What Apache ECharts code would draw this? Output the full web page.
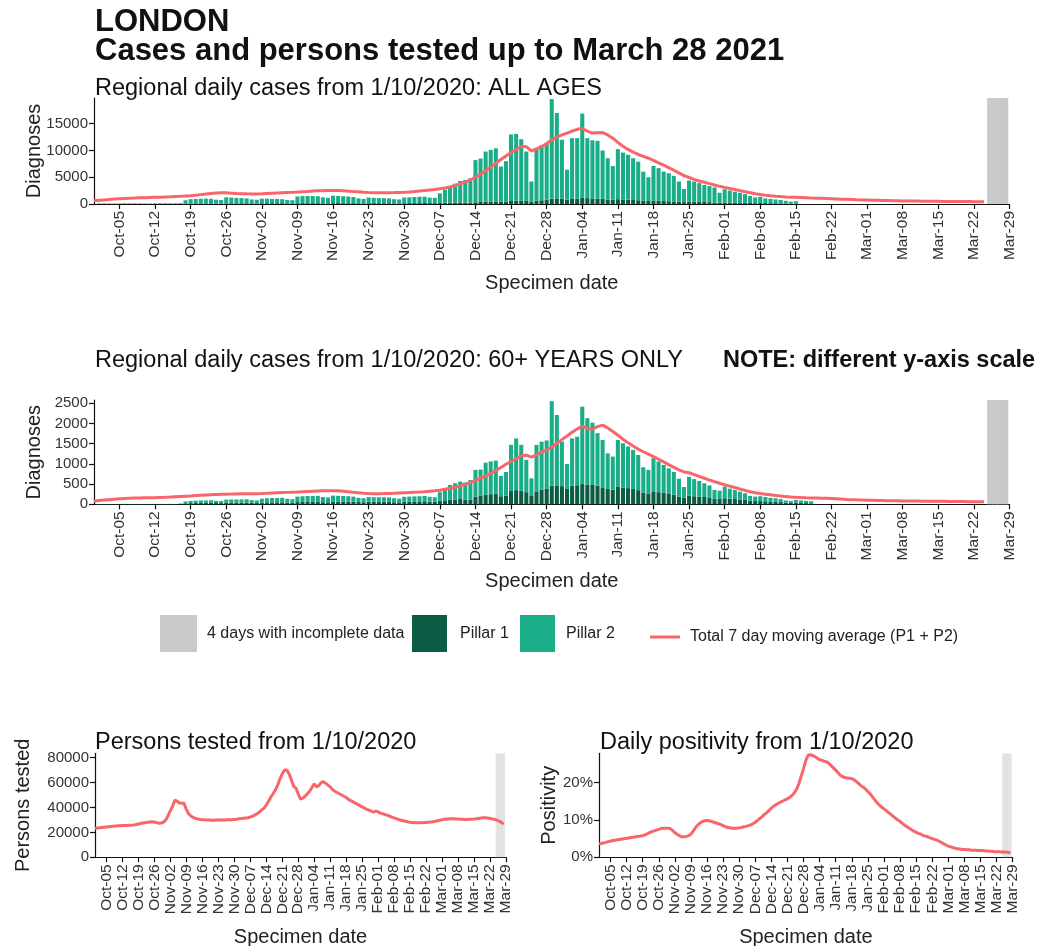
<!DOCTYPE html>
<html><head><meta charset="utf-8">
<script src="https://cdn.jsdelivr.net/npm/echarts@6/dist/echarts.min.js"></script>
<style>html,body{margin:0;padding:0;background:#fff}#c{width:1038px;height:946px}</style>
</head><body><div id="c"></div>
<script>
// ---------- tick labels ----------
const tickLabels = ['Oct-05','Oct-12','Oct-19','Oct-26','Nov-02','Nov-09','Nov-16','Nov-23','Nov-30',
  'Dec-07','Dec-14','Dec-21','Dec-28','Jan-04','Jan-11','Jan-18','Jan-25','Feb-01','Feb-08','Feb-15',
  'Feb-22','Mar-01','Mar-08','Mar-15','Mar-22','Mar-29'];
const yTicksTop = [0, 5000, 10000, 15000];
const yTicksMid = [0, 500, 1000, 1500, 2000, 2500];
const yTicksPersons = [0, 20000, 40000, 60000, 80000];
const yTicksPos = [0, 10, 20];

// ---------- all ages (from Oct 1) ----------
const pillar1All = [40,40,30,30,40,50,50, 50,40,40,30,50,60,60, 60,50,60,80,100,110,110,
  110,120,100,90,120,130,130, 130,140,120,110,140,150,150, 150,150,130,120,150,160,160,
  160,160,140,130,160,170,160, 160,160,140,130,160,160,160, 150,150,130,130,160,170,170,
  180,190,170,160,200,230,250, 270,290,260,250,320,380,420, 450,480,420,400,560,620,650,
  600,450,600,700,800,1000,1050, 1000,800,950,1000,1150,1100,1050, 1000,950,850,800,900,850,800,
  750,700,600,550,650,600,550, 520,480,400,350,450,420,400, 370,340,280,250,300,280,260,
  240,220,180,160,190,170,150, 140,120,100,90,100];
const pillar2All = [80,70,60,50,90,100,90, 90,90,70,70,100,110,100, 100,100,120,620,800,840,890,
  890,860,700,660,1130,1070,1020, 970,910,730,690,860,850,800, 800,750,620,580,1250,1340,1340,
  1340,1290,1110,1020,1390,1330,1290, 1240,1140,910,820,1040,990,940, 950,900,770,720,1040,1080,1130,
  1170,1160,1030,990,1800,2470,3050, 3530,4010,4240,4550,7880,8120,9380, 9650,9920,6580,7600,12440,12480,11450,
  9200,3750,9800,10300,10400,18600,15950, 11000,5600,11350,11300,15750,11200,10850,
  10800,9050,7700,6300,9350,8750,8400, 7800,7200,5450,4450,6450,6100,5500,
  5230,4770,3800,2450,3950,3780,3500, 3180,3010,2820,1850,2450,2220,2040,
  1860,1630,1320,1090,1160,880,800, 710,630,500,360,400];
// 7 day average, from Sep 30
const avgAll = [600,680,760,840,920,
  1000,1040,1080,1110,1150,1180,1220, 1250,1280,1320,1350,1390,1430,1480,
  1560,1650,1750,1850,1950,2040,2110, 2080,2030,1960,1930,1900,1880,1870,
  1900,1950,2000,2050,2100,2150,2180, 2230,2290,2350,2410,2460,2490,2500,
  2510,2500,2470,2400,2330,2270,2200, 2150,2120,2110,2110,2120,2140,2170,
  2210,2260,2330,2410,2500,2600,2720, 2850,3000,3200,3450,3750,4100,4500,
  5000,5600,6200,6900,7600,8300,8950, 9600,10200,10800,10700,9900,10300,10700,
  11300,12000,12500,12900,13250,13600,13950, 14150,13600,13250,13300,13350,12900,12300,
  11500,10800,10200,9700,9250,8900,8550, 8150,7700,7250,6800,6300,5800,5300,
  4950,4600,4300,4050,3800,3550,3300, 3100,2900,2700,2500,2300,2100,1900,
  1760,1640,1540,1460,1390,1330,1280, 1240,1200,1160,1120,1090,1060,1030,
  990,950,910,870,830,790,760, 730,700,680,660,640,620,600,
  580,565,550,540,530,520,510, 500,490,480,470,460,450,445, 440,440,440];

// ---------- 60+ (from Oct 1) ----------
const pillar1Old = [3,3,2,2,3,4,3, 3,3,2,2,4,4,4, 4,3,8,25,30,35,35,
  35,38,32,30,40,42,42, 42,45,38,35,45,48,48, 50,50,42,40,55,58,60,
  60,60,52,50,65,68,66, 65,64,56,52,62,64,64, 62,60,52,50,64,68,70,
  72,75,66,62,90,100,110, 120,130,115,110,190,220,240, 250,260,200,210,330,350,340,
  300,220,320,360,380,460,470, 450,380,460,470,500,490,480, 460,420,380,360,430,410,400,
  380,350,290,270, 320,300,290,270,240,190,160,210,200,190,180,170,140,130,150,140,130,120,110,
  90,80,80,75,70,65,55,45,35,40,35,30,25];
const pillar2Old = [5,5,4,4,6,6,6, 6,5,5,4,6,6,6, 6,6,12,45,55,55,60,
  60,62,53,50,75,78,78, 78,80,67,60,95,102,107, 105,110,93,85,135,142,145,
  146,150,128,120,150,142,139, 135,126,104,98,118,111,111, 113,110,98,90,121,122,125,
  128,130,119,113,210,300,370, 400,430,425,490,660,640,790, 810,820,500,590,1140,1280,1130,
  800,423,1150,1190,1200,2090,1740, 1100,617,1170,1200,1915,1640,1540, 1300,1170,882,820,1160,1100,1030,
  963,870,625,580, 820,760,685,620,560,443,268,470,422,386,340,296,214,208,287,247,224,193,162,
  116,110,120,105,90,85,75,50,50,70,60,55,50];
const avgOld = [80,95,105,115,125,
  135,142,148,153,157,160,163, 165,170,175,181,188,195,202,
  208,215,222,229,236,242,247, 250,252,255,258,260,262,264,
  268,273,279,285,290,295,300, 305,311,317,323,328,333,336,
  338,335,325,310,297,285,274, 266,263,264,266,270,275,281,
  287,292,298,304,312,322,335, 350,370,395,420,455,495,540,
  590,645,705,765,835,910,990, 1060,1130,1200,1215,1165,1220,1290,
  1345,1420,1510,1600,1690,1780,1860, 1935,1870,1860,1920,1960,1890,1800,
  1710,1610,1520,1440,1365,1300,1240, 1180,1115,1050,980,915,850,800,
  780,735,690,645,600,560,520, 485,450,415,380,345,310,285,
  265,250,235,220,205,190,180, 172,166,161,157,154,151,148,
  142,135,128,121,115,110,106, 102,99,96,93,90,88,86,
  84,82,80,79,78,77,76, 75,74,72,70,68,67,66, 65,64,64];

// ---------- persons tested and positivity (from Sep 30) ----------
const personsTested = [23300,23500,23800,24000,24200,24400,24600,24800,
  25000,25100,25300,25400,25500,25500,25600, 25700,25800,26000,26300,26700,27100,27500,
  27800,28100,28300,28500,28300,27800,27300, 27500,28300,30000,33500,37500,41000,46000,
  45000,43600,43400,43300,38500,35000,33200, 32000,31200,30800,30400,30200,30100,30000,
  29900,29800,29800,29900,29900,30000,30000, 30000,30100,30100,30200,30400,30600,30900,
  31100,31400,31600,31800,32300,33000,34000, 35000,36300,38000,39300,42000,45000,48300,
  51000,54000,58000,63000,67000,70100,70000, 67000,62000,57000,55500,51000,46600,47500,
  49000,51000,53000,56000,59000,56500,57500, 60000,60700,59500,58000,56500,54500,53000,
  52000,51000,50000,49000,48000,46500,45500, 44500,43500,42500,41500,40500,39500,38500,
  37800,37200,36200,37200,36500,35500,35000, 34300,33800,33000,32200,31600,31000,30300,
  29800,29300,28900,28500,28200,28000,27800, 27700,27700,27800,27900,28000,28200,28400,
  28600,29000,29400,29800,30200,30500,30700, 30800,30900,30900,30800,30700,30600,30500,
  30400,30400,30500,30600,30700,30900,31200, 31500,31700,31800,31600,31200,30800,30500,
  29800,29000,28000,26700];
const positivity = [3.6,3.7,3.9,4.0,4.2,4.3,4.5,4.6,
  4.7,4.8,4.9,5.0,5.1,5.2,5.3, 5.4,5.5,5.6,5.7,5.8,6.0,6.3,
  6.6,6.9,7.1,7.3,7.5,7.7,7.8, 7.8,7.8,7.7,7.2,6.6,6.2,5.8,
  5.5,5.5,5.6,5.8,6.2,7.0,8.0, 8.7,9.2,9.6,9.8,9.9,9.8,9.6,
  9.4,9.2,9.0,8.8,8.5,8.2,8.0, 7.9,7.8,7.8,7.8,7.9,8.0,8.2,
  8.3,8.5,8.7,9.0,9.4,9.9,10.4, 10.9,11.5,12.0,12.6,13.2,13.7,14.1,
  14.5,14.8,15.1,15.4,15.7,16.1,16.6, 17.3,18.3,19.8,21.8,23.8,26.0,27.4,
  27.5,27.3,27.0,26.6,26.2,26.0,25.8, 25.6,25.2,24.6,24.0,23.4,22.7,22.0,
  21.6,21.4,21.3,21.2,21.1,20.8,20.3, 19.8,19.2,18.8,18.3,17.6,17.0,16.2,
  15.4,14.6,14.0,13.4,13.0,12.5,12.0, 11.5,11.0,10.5,10.0,9.6,9.1,8.6,
  8.2,7.8,7.4,7.0,6.7,6.4,6.2, 5.9,5.7,5.5,5.2,5.0,4.8,4.6,
  4.3,4.0,3.6,3.3,3.0,2.8,2.6, 2.4,2.3,2.2,2.1,2.1,2.0,2.0,
  1.9,1.9,1.9,1.8,1.8,1.8,1.7, 1.7,1.6,1.6,1.5,1.5,1.5,1.4,
  1.4,1.4,1.3,1.3];

// ---------- incomplete-data band (Mar 25 - Mar 28) ----------
const incompleteAll = [19800,19800,19800,19800];
const incompleteOld = [2580,2580,2580,2580];
const incompletePersons = [83500,83500,83500,83500];
const incompletePos = [27.9,27.9,27.9,27.9];

// ---------- category days: Sep 30 2020 .. Mar 29 2021 ----------
const MONTHS = ['Jan','Feb','Mar','Apr','May','Jun','Jul','Aug','Sep','Oct','Nov','Dec'];
const days = [];
for (let i = 0; i < 181; i++) {
  const d = new Date(Date.UTC(2020, 8, 30) + i * 86400000);
  days.push(MONTHS[d.getUTCMonth()] + '-' + String(d.getUTCDate()).padStart(2, '0'));
}
function place(arr, start) {
  const out = new Array(days.length).fill(null);
  arr.forEach((v, i) => { out[start + i] = v; });
  return out;
}
const IDX_OCT1 = 1, IDX_MAR25 = days.indexOf('Mar-25');

const FONT = '"Liberation Sans", Arial, Helvetica, sans-serif';
const C_P1 = '#0B5B45', C_P2 = '#1AAE88', C_GREY = '#C9C9C9', C_RED = '#F8656A';
const tickSet = new Set(tickLabels);
const tickFn = (i, v) => tickSet.has(v);
const AVG_NAME = 'Total 7 day moving average (P1 + P2)';
const GREY_NAME = '4 days with incomplete data';

function xAxis(gi, nameGap) {
  return {
    type: 'category', gridIndex: gi, data: days, boundaryGap: false,
    axisLine: {show: true, lineStyle: {color: '#111', width: 1.2}},
    axisTick: {show: true, interval: tickFn, length: 5, lineStyle: {color: '#111', width: 1.2}},
    axisLabel: {interval: tickFn, rotate: 90, fontSize: 15.5, color: '#333', margin: 7, fontFamily: FONT},
    splitLine: {show: false},
    name: 'Specimen date', nameLocation: 'middle', nameGap: nameGap, nameMoveOverlap: false,
    nameTextStyle: {fontSize: 20, color: '#222', fontFamily: FONT}
  };
}
function yAxis(gi, max, ticks, name, nameGap, suffix) {
  return {
    type: 'value', gridIndex: gi, min: 0, max: max,
    axisLine: {show: true, lineStyle: {color: '#111', width: 1.2}},
    axisTick: {show: true, length: 5, customValues: ticks, lineStyle: {color: '#111', width: 1.2}},
    axisLabel: {customValues: ticks, fontSize: 15, color: '#333', margin: 6, fontFamily: FONT,
      formatter: (v) => String(v) + (suffix || '')},
    splitLine: {show: false},
    name: name, nameLocation: 'middle', nameGap: nameGap, nameMoveOverlap: false,
    nameTextStyle: {fontSize: 20, color: '#222', fontFamily: FONT}
  };
}
function bars(gi, name, data, color, stack) {
  return {
    type: 'bar', name: name, xAxisIndex: gi, yAxisIndex: gi, stack: stack, data: data,
    barWidth: '80%', barGap: '-100%', itemStyle: {color: color},
    emphasis: {disabled: true}
  };
}
function line(gi, name, data) {
  return {
    type: 'line', name: name, xAxisIndex: gi, yAxisIndex: gi, data: data, symbol: 'none',
    lineStyle: {color: C_RED, width: 3}, itemStyle: {color: C_RED}, z: 5, emphasis: {disabled: true}
  };
}
function greyBars(gi, data, color) {
  return {
    type: 'bar', name: GREY_NAME, xAxisIndex: gi, yAxisIndex: gi, stack: 'g' + gi,
    data: place(data, IDX_MAR25), barWidth: '116%', barGap: '-100%',
    itemStyle: {color: color}, emphasis: {disabled: true}
  };
}
function txt(x, y, text, size, bold) {
  return {type: 'text', x: x, y: y, silent: true,
    style: {text: text, font: (bold ? 'bold ' : '') + size + 'px ' + FONT, fill: '#111',
      textVerticalAlign: 'middle', verticalAlign: 'middle'}};
}

const chart = echarts.init(document.getElementById('c'), null, {renderer: 'canvas'});
chart.setOption({
  animation: false,
  backgroundColor: '#fff',
  textStyle: {fontFamily: FONT},
  grid: [
    {left: 94, top: 98, width: 915.5, height: 106, outerBoundsMode: 'none'},
    {left: 94, top: 400, width: 915.5, height: 104.3, outerBoundsMode: 'none'},
    {left: 95, top: 753.3, width: 411, height: 104, outerBoundsMode: 'none'},
    {left: 599, top: 753.3, width: 413.7, height: 104, outerBoundsMode: 'none'}
  ],
  xAxis: [xAxis(0, 69), xAxis(1, 67), xAxis(2, 70), xAxis(3, 70)],
  yAxis: [
    yAxis(0, 19800, yTicksTop, 'Diagnoses', 50),
    yAxis(1, 2580, yTicksMid, 'Diagnoses', 50),
    yAxis(2, 83500, yTicksPersons, 'Persons tested', 62),
    yAxis(3, 27.9, yTicksPos, 'Positivity', 40, '%')
  ],
  legend: [
    {data: [GREY_NAME], left: 155, top: 610, itemWidth: 37, itemHeight: 37, icon: 'rect', selectedMode: false,
      textStyle: {fontSize: 16, color: '#222', padding: [0, 0, 0, 5]}},
    {data: ['Pillar 1'], left: 407, top: 610, itemWidth: 35, itemHeight: 37, icon: 'rect', selectedMode: false,
      textStyle: {fontSize: 16, color: '#222', padding: [0, 0, 0, 8]}},
    {data: ['Pillar 2'], left: 515, top: 610, itemWidth: 35, itemHeight: 37, icon: 'rect', selectedMode: false,
      textStyle: {fontSize: 16, color: '#222', padding: [0, 0, 0, 6]}},
    {data: [{name: AVG_NAME, icon: 'rect', itemStyle: {color: C_RED}}], left: 645, top: 624,
      itemWidth: 30, itemHeight: 3, selectedMode: false,
      textStyle: {fontSize: 16, color: '#222', padding: [0, 0, 0, 5]}}
  ],
  graphic: [
    txt(95, 22, 'LONDON', 31, true),
    txt(95, 51, 'Cases and persons tested up to March 28 2021', 31, true),
    txt(95, 89, 'Regional daily cases from 1/10/2020: ALL AGES', 23.5, false),
    txt(95, 361, 'Regional daily cases from 1/10/2020: 60+ YEARS ONLY', 23.5, false),
    txt(723, 361, 'NOTE: different y-axis scale', 23.5, true),
    txt(95, 743, 'Persons tested from 1/10/2020', 23.5, false),
    txt(600, 743, 'Daily positivity from 1/10/2020', 23.5, false)
  ],
  series: [
    greyBars(0, incompleteAll, C_GREY),
    bars(0, 'Pillar 1', place(pillar1All, IDX_OCT1), C_P1, 's0'),
    bars(0, 'Pillar 2', place(pillar2All, IDX_OCT1), C_P2, 's0'),
    line(0, AVG_NAME, place(avgAll, 0)),
    greyBars(1, incompleteOld, C_GREY),
    bars(1, 'Pillar 1', place(pillar1Old, IDX_OCT1), C_P1, 's1'),
    bars(1, 'Pillar 2', place(pillar2Old, IDX_OCT1), C_P2, 's1'),
    line(1, AVG_NAME, place(avgOld, 0)),
    greyBars(2, incompletePersons, 'rgba(195,195,195,0.45)'),
    line(2, 'Persons tested', place(personsTested, 0)),
    greyBars(3, incompletePos, 'rgba(195,195,195,0.45)'),
    line(3, 'Positivity', place(positivity, 0))
  ]
});
</script></body></html>
